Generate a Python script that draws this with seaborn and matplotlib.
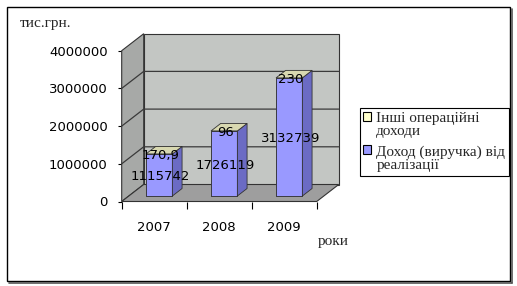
import matplotlib
matplotlib.use("Agg")
import matplotlib.pyplot as plt
import seaborn as sns
import pandas as pd
import numpy as np
from matplotlib.patches import Polygon, Patch, Rectangle
from matplotlib.lines import Line2D
from matplotlib.transforms import Affine2D, IdentityTransform

# ---- data ----
years = ["2007", "2008", "2009"]
revenue = [1115742, 1726119, 3132739]
other = [170.9, 96, 230]
revenue_labels = ["1115742", "1726119", "3132739"]
other_labels = ["170,9", "96", "230"]
yticks = [0, 1000000, 2000000, 3000000, 4000000]
series_names = ["Інші операційні\nдоходи", "Доход (виручка) від\nреалізації"]
y_title = "тис.грн."
x_title = "роки"

sns.set_theme(style="white")
plt.rcParams['font.family'] = ['DejaVu Sans']

W, H = 517, 286
fig = plt.figure(figsize=(W / 100, H / 100), dpi=100)
fig.patch.set_facecolor("white")

ax = fig.add_axes([121.7 / W, 1 - 201.5 / H, 195 / W, 150.8 / H])

blue = "#9999FF"
side_c = "#6B6BC4"
top_c = "#D8D8B0"
yellow = "#FFFFCC"
edge = "#333333"
back_c = "#C3C6C3"
left_c = "#A7A9A7"
floor_c = "#9E9E9E"

df = pd.DataFrame({"year": years, "revenue": revenue, "other": other})
df["total"] = df["revenue"] + df["other"]

sns.barplot(data=df, x="year", y="total", color=top_c, saturation=1, width=0.405,
            edgecolor=edge, linewidth=0.6, ax=ax, zorder=3)
sns.barplot(data=df, x="year", y="revenue", color=blue, saturation=1, width=0.405,
            edgecolor=edge, linewidth=0.6, ax=ax, zorder=3)
tot_bars = list(ax.patches[:3])
rev_bars = list(ax.patches[3:6])

ax.set_xlim(-0.5, 2.5)
ax.set_ylim(0, 4000000)
ax.set_xlabel("")
ax.set_ylabel("")
ax.patch.set_visible(False)
for s in ax.spines.values():
    s.set_visible(False)

ident = IdentityTransform()
D = np.array([22.0, 17.0])      # wall depth in pixels
B = np.array([5.0, 5.5])        # bar offset from front plane
d = np.array([9.7, 7.5])        # bar depth

# bars offset into depth
off = Affine2D().translate(*B)
for p in tot_bars + rev_bars:
    p.set_transform(ax.transData + off)
    p.set_clip_on(False)


def front(xa, ya):
    return ax.transAxes.transform((xa, ya))


def poly(pts, fc, z, lw=0.8, ec=edge):
    p = Polygon(np.array(pts), closed=True, facecolor=fc, edgecolor=ec, linewidth=lw,
                transform=ident, clip_on=False, zorder=z)
    ax.add_artist(p)
    return p


# walls
poly([front(0, 0) + D, front(1, 0) + D, front(1, 1) + D, front(0, 1) + D], back_c, 0.5)
poly([front(0, 0), front(0, 0) + D, front(0, 1) + D, front(0, 1)], left_c, 0.6)
poly([front(0, 0), front(1, 0), front(1, 0) + D, front(0, 0) + D], floor_c, 0.7)

# gridlines on walls
for v in yticks[1:-1]:
    ya = v / 4000000
    p0, p1 = front(0, ya), front(0, ya) + D
    p2 = front(1, ya) + D
    ax.add_artist(Line2D([p0[0], p1[0], p2[0]], [p0[1], p1[1], p2[1]], color="#3A3A3A",
                         lw=0.9, transform=ident, clip_on=False, zorder=0.8))

for rb, tb, rl, ol in zip(rev_bars, tot_bars, revenue_labels, other_labels):
    x0, w = rb.get_x(), rb.get_width()
    h = rb.get_height()
    ht = tb.get_height()
    bl, br, tr, tl = ax.transData.transform([(x0, 0), (x0 + w, 0), (x0 + w, ht), (x0, ht)]) + B
    poly([br, tr, tr + d, br + d], side_c, 3.2, lw=0.6)
    poly([tl, tr, tr + d, tl + d], top_c, 3.2, lw=0.6)
    cx = (bl[0] + br[0]) / 2 + 1
    midy = ax.transData.transform((x0, h / 2))[1] + B[1] - 2
    ax.text(cx, midy, rl, transform=ident, ha="center", va="center", fontsize=9.5,
            color="black", zorder=5, clip_on=False)
    ax.text(cx, tl[1] - 2, ol, transform=ident, ha="center", va="center", fontsize=9.5,
            color="black", zorder=5, clip_on=False)

# ticks
ax.set_yticks(yticks)
ax.set_yticklabels([str(v) for v in yticks])
ax.tick_params(axis="y", left=True, length=3, width=0.8, color="black", pad=7,
               labelsize=9.5, labelcolor="black")
ax.set_xticks(range(len(years)))
ax.set_xticklabels(years)
ax.set_xticks([-0.5, 0.5, 1.5, 2.5], minor=True)
ax.tick_params(axis="x", which="major", bottom=True, length=0, pad=14, labelsize=9.5,
               labelcolor="black")
ax.tick_params(axis="x", which="minor", bottom=True, length=5, width=0.8, color="black")

# titles
serif = ["Liberation Serif", "DejaVu Serif"]
fig.text(20 / W, 1 - 23 / H, y_title, ha="left", va="center", fontsize=11, family=serif)
fig.text(318 / W, 1 - 242 / H, x_title, ha="left", va="center", fontsize=11, family=serif)

# legend
handles = [Patch(facecolor=yellow, edgecolor="black", linewidth=0.8),
           Patch(facecolor=blue, edgecolor="black", linewidth=0.8)]
leg = fig.legend(handles, series_names, loc="upper left",
                 bbox_to_anchor=(359.5 / W, 1 - 108 / H), borderaxespad=0,
                 frameon=True, fancybox=False, edgecolor="black", framealpha=1,
                 prop={"family": serif, "size": 11}, handlelength=0.5, handleheight=0.5,
                 handletextpad=0.35, labelspacing=0.5, borderpad=0.25)
leg.get_frame().set_linewidth(0.8)
for t in leg.get_texts():
    t.set_linespacing(1.0)
try:
    for col in leg._legend_handle_box.get_children():
        for entry in col.get_children():
            entry.align = "top"
except Exception:
    pass

# outer frame
fig.add_artist(Rectangle((6.5 / W, 1 - 281 / H), (510 - 6.5) / W, (281 - 7) / H,
                         transform=fig.transFigure, fill=False, edgecolor="black", lw=1))
fig.add_artist(Line2D([512 / W, 512 / W], [1 - 282.5 / H, 1 - 9 / H], color="#555555",
                      lw=1.2, transform=fig.transFigure))
fig.add_artist(Line2D([9 / W, 512 / W], [1 - 282.5 / H, 1 - 282.5 / H], color="#555555",
                      lw=1.2, transform=fig.transFigure))

fig.savefig("out.png", dpi=100)
